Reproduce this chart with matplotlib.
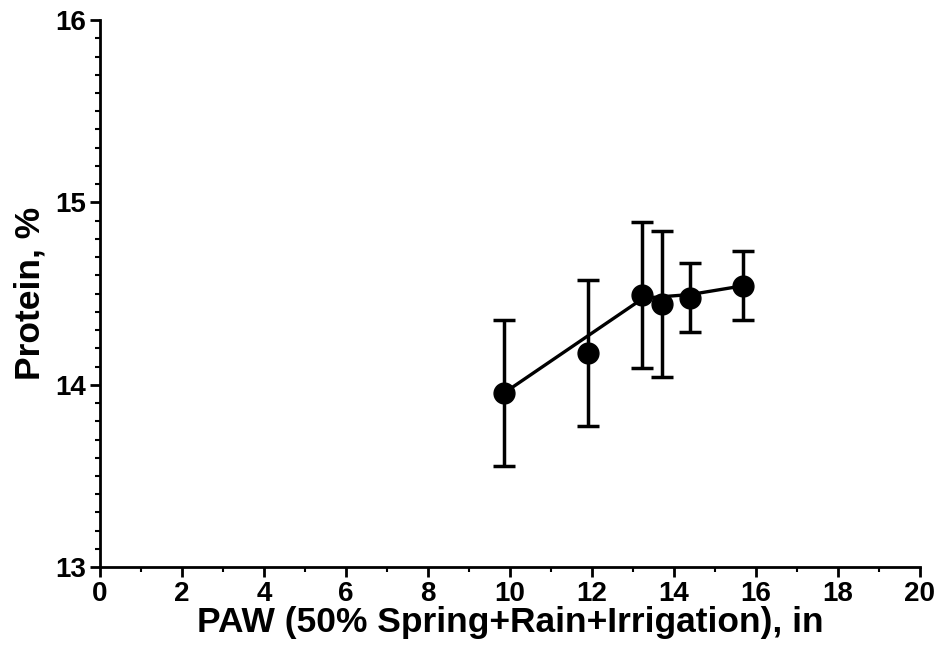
import matplotlib
matplotlib.use('Agg')
import matplotlib.pyplot as plt
from matplotlib.ticker import MultipleLocator

# Data
paw = [9.86, 11.90, 13.21, 13.70, 14.40, 15.69]
protein = [13.956, 14.176, 14.492, 14.443, 14.477, 14.543]
protein_err = [0.40, 0.40, 0.40, 0.40, 0.19, 0.19]

# fitted response line
fit_x = [9.86, 13.25, 14.40, 15.69]
fit_y = [13.956, 14.475, 14.495, 14.543]

plt.rcParams['font.family'] = ['Liberation Sans', 'DejaVu Sans']
plt.rcParams['font.weight'] = 'bold'

fig = plt.figure(figsize=(9.43, 6.46), dpi=100)
ax = fig.add_axes([0.106, 0.122, 0.8696, 0.847])

ax.plot(fit_x, fit_y, color='black', lw=2.4, zorder=2)
ax.errorbar(paw, protein, yerr=protein_err, fmt='o', color='black',
            markersize=15, elinewidth=2.5, capsize=8, capthick=2.5, zorder=3)

ax.set_xlim(0, 20)
ax.set_ylim(13, 16)
ax.xaxis.set_major_locator(MultipleLocator(2))
ax.xaxis.set_minor_locator(MultipleLocator(1))
ax.yaxis.set_major_locator(MultipleLocator(1))
ax.yaxis.set_minor_locator(MultipleLocator(0.1))

for side in ['top', 'right']:
    ax.spines[side].set_visible(False)
for side in ['left', 'bottom']:
    ax.spines[side].set_linewidth(2)

ax.tick_params(which='major', length=7, width=2, labelsize=20, pad=3)
ax.tick_params(which='minor', length=3.5, width=1.5)

ax.set_xlabel('PAW (50% Spring+Rain+Irrigation), in', fontsize=25.5,
              fontweight='bold', labelpad=-1)
ax.set_ylabel('Protein, %', fontsize=25.5, fontweight='bold', labelpad=6)

fig.savefig('out.png', dpi=100)
